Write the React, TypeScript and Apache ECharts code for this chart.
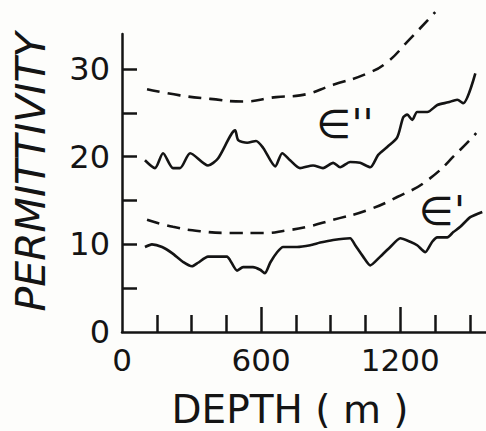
import React, { useEffect, useRef } from "react";
import * as echarts from "echarts";

// ε'' measured curve (depth m, permittivity)
const epsDblDepth = [99, 142, 177, 220, 250, 294, 371, 414, 488, 501, 540, 578, 609, 661, 691, 725, 768, 824, 867, 911, 941, 984, 1027, 1071, 1105, 1144, 1187, 1213, 1230, 1252, 1273, 1317, 1360, 1407, 1446, 1472, 1524];
const epsDblValue = [19.6, 18.7, 20.4, 18.7, 18.7, 20.4, 19.0, 19.8, 23.0, 21.9, 21.6, 21.8, 21.0, 18.9, 20.4, 19.6, 18.7, 19.0, 18.7, 19.3, 18.8, 19.4, 19.3, 18.8, 20.2, 21.1, 22.2, 24.5, 24.8, 24.2, 25.1, 25.1, 25.9, 26.2, 26.5, 26.1, 29.5];

// ε' measured curve
const epsSglDepth = [99, 129, 173, 216, 263, 302, 328, 371, 410, 453, 466, 496, 522, 565, 596, 617, 639, 669, 695, 755, 812, 855, 911, 984, 1006, 1040, 1071, 1114, 1157, 1200, 1243, 1273, 1308, 1338, 1360, 1403, 1429, 1459, 1502, 1554];
const epsSglValue = [9.7, 10.0, 9.7, 9.0, 8.0, 7.5, 7.9, 8.6, 8.6, 8.6, 8.2, 7.0, 7.4, 7.4, 7.1, 6.7, 7.9, 9.1, 9.7, 9.7, 9.9, 10.2, 10.5, 10.7, 9.9, 8.6, 7.6, 8.6, 9.7, 10.7, 10.3, 9.9, 9.1, 10.3, 10.8, 10.8, 11.4, 12.0, 13.1, 13.7];

// dashed envelope above ε''
const upperDashDepth = [108, 250, 380, 522, 665, 768, 911, 1058, 1144, 1230, 1351];
const upperDashValue = [27.7, 27.0, 26.6, 26.3, 26.8, 27.0, 28.2, 29.5, 30.8, 33.1, 36.5];

// dashed envelope above ε'
const lowerDashDepth = [108, 220, 337, 466, 609, 712, 799, 911, 1058, 1187, 1317, 1459, 1528];
const lowerDashValue = [12.8, 12.0, 11.5, 11.3, 11.3, 11.6, 12.0, 12.8, 13.9, 15.4, 17.3, 20.8, 22.7];

const xLabelValues = [0, 600, 1200];
const xMajorTicks = [600, 1200];
const xMinorTicks = [150, 300, 450, 750, 900, 1050, 1350, 1500];
const yLabelValues = [0, 10, 20, 30];
const yTickValues = [5, 10, 15, 20, 25, 30];

const zip = (a: number[], b: number[]) => a.map((v, i) => [v, b[i]]);

const INK = "#141414";
const FONT = "DejaVu Sans";

export default function App() {
  const ref = useRef<HTMLDivElement>(null);
  useEffect(() => {
    if (!ref.current) return;
    const chart = echarts.init(ref.current, undefined, { renderer: "svg" });
    const lineBase = {
      type: "line" as const,
      showSymbol: false,
      symbol: "none",
      clip: false,
      xAxisIndex: 0,
      yAxisIndex: 0,
    };
    chart.setOption({
      animation: false,
      backgroundColor: "#fdfdfb",
      grid: { left: 122, right: 0, top: 34, bottom: 99, containLabel: false },
      xAxis: [
        {
          type: "value",
          min: 0,
          max: 1570,
          position: "bottom",
          axisLine: { show: true, onZero: false, lineStyle: { color: INK, width: 2.5 } },
          axisTick: { show: true, inside: true, length: 25, customValues: xMajorTicks, lineStyle: { color: INK, width: 2.5 } },
          axisLabel: {
            show: true,
            customValues: xLabelValues,
            formatter: (v: number) => String(v),
            margin: 12,
            color: INK,
            fontSize: 31,
            fontFamily: FONT,
          },
          splitLine: { show: false },
        },
        {
          type: "value",
          min: 0,
          max: 1570,
          position: "bottom",
          axisLine: { show: false },
          axisTick: { show: true, inside: true, length: 17, customValues: xMinorTicks, lineStyle: { color: INK, width: 2.5 } },
          axisLabel: { show: false },
          splitLine: { show: false },
        },
      ],
      yAxis: {
        type: "value",
        min: 0,
        max: 34,
        axisLine: { show: true, onZero: false, lineStyle: { color: INK, width: 2.5 } },
        axisTick: { show: true, inside: true, length: 15, customValues: yTickValues, lineStyle: { color: INK, width: 2.5 } },
        axisLabel: {
          show: true,
          customValues: yLabelValues,
          formatter: (v: number) => String(v),
          margin: 12,
          color: INK,
          fontSize: 32,
          fontFamily: FONT,
        },
        splitLine: { show: false },
      },
      graphic: [
        {
          type: "text",
          x: 31,
          y: 172,
          rotation: Math.PI / 2,
          style: {
            text: "PERMITTIVITY",
            align: "center",
            verticalAlign: "middle",
            fill: INK,
            font: `italic 41px '${FONT}'`,
          },
        },
        {
          type: "text",
          x: 290,
          y: 409,
          style: {
            text: "DEPTH ( m )",
            align: "center",
            verticalAlign: "middle",
            lineHeight: 34,
            fill: INK,
            font: `39px '${FONT}'`,
          },
        },
        {
          type: "text",
          x: 345,
          y: 124,
          style: { text: "∈''", align: "center", verticalAlign: "middle", fill: INK, font: `40px '${FONT}'` },
        },
        {
          type: "text",
          x: 442,
          y: 211,
          style: { text: "∈'", align: "center", verticalAlign: "middle", fill: INK, font: `40px '${FONT}'` },
        },
      ],
      series: [
        { ...lineBase, name: "eps2", data: zip(epsDblDepth, epsDblValue), smooth: 0.25, lineStyle: { color: INK, width: 2.6 } },
        { ...lineBase, name: "eps1", data: zip(epsSglDepth, epsSglValue), smooth: 0.2, lineStyle: { color: INK, width: 2.6 } },
        { ...lineBase, name: "env2", data: zip(upperDashDepth, upperDashValue), smooth: true, lineStyle: { color: INK, width: 2.6, type: [13, 8] } },
        { ...lineBase, name: "env1", data: zip(lowerDashDepth, lowerDashValue), smooth: true, lineStyle: { color: INK, width: 2.6, type: [13, 8] } },
      ],
    });
    return () => chart.dispose();
  }, []);
  return (
    <div
      ref={ref}
      style={{ position: "fixed", left: 0, top: 0, width: 486, height: 431 }}
    />
  );
}
